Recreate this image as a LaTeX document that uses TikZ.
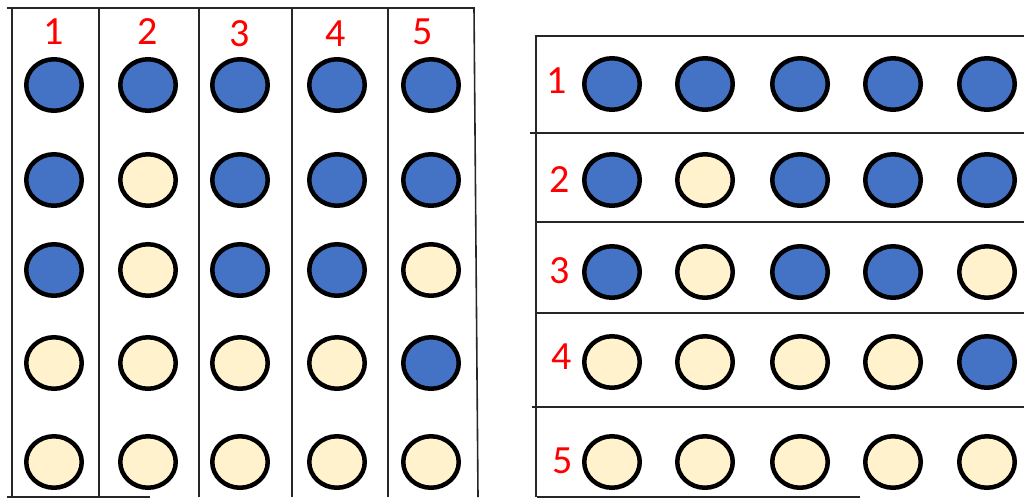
\documentclass[tikz,border=0pt]{standalone}
\usepackage{fontspec}
\setmainfont{Carlito}
\usetikzlibrary{shapes.geometric}
\definecolor{dotblue}{HTML}{4472C4}
\definecolor{dotcream}{HTML}{FFF2CC}
\definecolor{numred}{HTML}{FF0000}
\tikzset{
  dot/.style={ellipse, draw=black, line width=4.5pt, inner sep=0pt, minimum width=55.5pt, minimum height=51.5pt},
  bdot/.style={dot, fill=dotblue},
  cdot/.style={dot, fill=dotcream},
  num/.style={text=numred, font=\fontsize{40}{40}\selectfont, inner sep=0pt},
  grid/.style={line width=1.6pt, draw=black!85}
}
\begin{document}
\begin{tikzpicture}[x=1pt,y=-1pt]
\useasboundingbox (0,0) rectangle (1024,498);
% left grid lines
\coordinate (lt0) at (7,8); \coordinate (lt1) at (475,8);
\draw[grid] (lt0) -- (lt1);
\foreach \x/\n in {12/a,99/b,199/c,292/d,388/e}{
  \coordinate (lv\n0) at (\x,8); \coordinate (lv\n1) at (\x,497);
  \draw[grid] (lv\n0) -- (lv\n1);
}
\coordinate (lr0) at (474,8); \coordinate (lr1) at (478,497);
\draw[grid] (lr0) -- (lr1);
\coordinate (lb0) at (7,497); \coordinate (lb1) at (150,497);
\draw[grid] (lb0) -- (lb1);
% left labels
\node[num] (L1) at (54,32) {1};
\node[num] (L2) at (148,32) {2};
\node[num] (L3) at (240,34) {3};
\node[num] (L4) at (336,34) {4};
\node[num] (L5) at (423,32) {5};
% left dots (columns)
\foreach \cx/\c in {54/1,148/2,240/3,337/4,431/5}{
  \foreach \ry/\r in {85/1,180/2,270/3,363/4,462/5}{
    \coordinate (lp\c\r) at (\cx,\ry);
  }
}
\foreach \c/\pat in {1/{b,b,b,c,c},2/{b,c,c,c,c},3/{b,b,b,c,c},4/{b,b,b,c,c},5/{b,b,c,b,c}}{
  \foreach \t [count=\r] in \pat {
    \node[\t dot] (ld\c\r) at (lp\c\r) {};
  }
}
% right grid lines
\coordinate (rt0) at (535,36); \coordinate (rt1) at (1024,36);
\draw[grid] (rt0) -- (rt1);
\foreach \y/\x/\n in {133/530/a,222/537/b,313/537/c,407/532/d}{
  \coordinate (rh\n0) at (\x,\y); \coordinate (rh\n1) at (1024,\y);
  \draw[grid] (rh\n0) -- (rh\n1);
}
\coordinate (rb0) at (537,497); \coordinate (rb1) at (860,497);
\draw[grid] (rb0) -- (rb1);
\coordinate (rl0) at (536,36); \coordinate (rl1) at (536,497);
\draw[grid] (rl0) -- (rl1);
% right labels
\node[num] (R1) at (557,81) {1};
\node[num] (R2) at (560,180) {2};
\node[num] (R3) at (560,271) {3};
\node[num] (R4) at (562,357) {4};
\node[num] (R5) at (563,461) {5};
% right dots (rows)
\foreach \cx/\c in {612/1,705/2,800/3,893/4,987/5}{
  \foreach \ry/\r in {84/1,180/2,272/3,362/4,462/5}{
    \coordinate (rp\c\r) at (\cx,\ry);
  }
}
\foreach \r/\pat in {1/{b,b,b,b,b},2/{b,c,b,b,b},3/{b,c,b,b,c},4/{c,c,c,c,b},5/{c,c,c,c,c}}{
  \foreach \t [count=\c] in \pat {
    \node[\t dot] (rd\r\c) at (rp\c\r) {};
  }
}
\end{tikzpicture}
\end{document}
